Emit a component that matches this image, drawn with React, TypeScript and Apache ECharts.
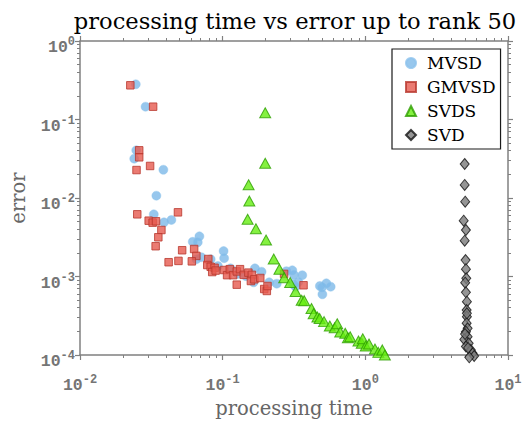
import React, { useEffect, useRef } from "react";
import * as echarts from "echarts";

// ---- data ----
const mvsdTime = [0.0246, 0.0288, 0.0248, 0.024, 0.0384, 0.0343, 0.0329, 0.0388, 0.0437, 0.0687, 0.0617, 0.0669, 0.0709, 0.0654, 0.1015, 0.1024, 0.0824, 0.0926, 0.1135, 0.1456, 0.1683, 0.1648, 0.1874, 0.2118, 0.2393, 0.2796, 0.3076, 0.316, 0.3614, 0.311, 0.339, 0.3243, 0.48, 0.4977, 0.533, 0.5717, 0.5, 0.128];
const mvsdError = [0.281, 0.1456, 0.0405, 0.0317, 0.0229, 0.0107, 0.0062, 0.0049, 0.00525, 0.00325, 0.00277, 0.00273, 0.00176, 0.00166, 0.00211, 0.00171, 0.00166, 0.00136, 0.00127, 0.00101, 0.00127, 0.000843, 0.00115, 0.000843, 0.00081, 0.00117, 0.0012, 0.00105, 0.00104, 0.000802, 0.000851, 0.000741, 0.000757, 0.000728, 0.000819, 0.000741, 0.000593, 0.00108];

const gmvsdTime = [0.02253, 0.03255, 0.026, 0.026, 0.0249, 0.031, 0.0252, 0.0486, 0.0303, 0.0323, 0.0341, 0.0372, 0.0354, 0.0339, 0.052, 0.0631, 0.0654, 0.0418, 0.049, 0.0608, 0.0793, 0.078, 0.0824, 0.0878, 0.0845, 0.0893, 0.1024, 0.1074, 0.1122, 0.1183, 0.1255, 0.1323, 0.1255, 0.1404, 0.1514, 0.1603, 0.1577, 0.1667, 0.1835, 0.1956, 0.204, 0.2062, 0.2694, 0.3688];
const gmvsdError = [0.2727, 0.1456, 0.0405, 0.033, 0.0227, 0.0256, 0.0062, 0.00657, 0.00514, 0.00485, 0.00505, 0.00391, 0.00316, 0.00243, 0.00216, 0.00224, 0.00183, 0.00152, 0.00158, 0.00156, 0.00167, 0.0014, 0.00133, 0.00129, 0.00114, 0.00119, 0.00121, 0.00104, 0.00124, 0.00104, 0.00116, 0.00124, 0.000787, 0.00105, 0.00112, 0.00105, 0.000876, 0.000921, 0.000957, 0.000693, 0.000654, 0.000757, 0.00108, 0.000773];

const svdsTime = [0.1987, 0.1987, 0.152, 0.1538, 0.1496, 0.171, 0.2014, 0.228, 0.25, 0.27, 0.2972, 0.3243, 0.358, 0.3728, 0.4194, 0.4343, 0.4613, 0.478, 0.5138, 0.5636, 0.6096, 0.6353, 0.6668, 0.7228, 0.7545, 0.7826, 0.895, 0.944, 0.959, 1.0065, 1.061, 1.168, 1.233, 1.315, 1.371];
const svdsError = [0.1221, 0.0277, 0.01477, 0.00916, 0.00535, 0.00406, 0.00292, 0.00167, 0.00124, 0.000966, 0.000839, 0.000644, 0.000499, 0.000492, 0.000391, 0.000336, 0.000305, 0.000292, 0.000266, 0.000234, 0.000222, 0.00025, 0.000196, 0.000189, 0.000166, 0.000171, 0.000151, 0.000141, 0.000161, 0.00013, 0.000138, 0.000119, 0.000108, 0.000116, 0.0001];

const svdTime = [4.97, 4.97, 5.01, 4.89, 5.07, 4.97, 5.04, 5.07, 5.1, 5.01, 5.07, 5.15, 5.13, 5.15, 5.13, 5.21, 5.07, 5.21, 4.94, 5.3, 5.07, 5.49, 5.65, 5.79, 5.35, 5.15, 5.0, 5.25];
const svdError = [0.0271, 0.01465, 0.00897, 0.00514, 0.00391, 0.00286, 0.00162, 0.00124, 0.000948, 0.000834, 0.000629, 0.000478, 0.000374, 0.000308, 0.000254, 0.000219, 0.000198, 0.000171, 0.000158, 0.000141, 0.000128, 0.000116, 0.000105, 0.0000971, 0.0000935, 0.00034, 0.000185, 0.000123];

const seriesNames = ["MVSD", "GMVSD", "SVDS", "SVD"];
const xMin = 0.01;
const xMax = 10;
const yMin = 1e-4;
const yMax = 1;
const minorMultipliers = [2, 3, 4, 5, 6, 7, 8, 9];
const xDecades = [0.01, 0.1, 1];
const yDecades = [1e-4, 1e-3, 1e-2, 1e-1];

const zip = (a: number[], b: number[]) => a.map((v, i) => [v, b[i]]);
const minorLog = (decades: number[]) =>
  decades.flatMap((d) => minorMultipliers.map((m) => Math.log10(d * m)));

const AXIS_COLOR = "#808080";
const LABEL_COLOR = "#757575";

const labelRich = {
  b: {
    fontFamily: "Liberation Mono",
    fontWeight: "bold",
    fontSize: 16.5,
    color: LABEL_COLOR,
    verticalAlign: "bottom",
  },
  s: {
    fontFamily: "Liberation Mono",
    fontWeight: "bold",
    fontSize: 12,
    color: LABEL_COLOR,
    verticalAlign: "bottom",
    padding: [0, 0, 8, 0],
  },
};
const powLabel = (v: number) => `{b|10}{s|${Math.round(Math.log10(v))}}`;

function logAxis(position: string, min: number, max: number, withLabels: boolean, extra: any = {}) {
  return {
    type: "log",
    position,
    min,
    max,
    logBase: 10,
    axisLine: { show: true, onZero: false, lineStyle: { color: AXIS_COLOR, width: 1.5 } },
    axisTick: { show: true, inside: false, length: 5, lineStyle: { color: AXIS_COLOR, width: 1.2 } },
    axisLabel: withLabels
      ? { show: true, formatter: powLabel, rich: labelRich, ...(extra.axisLabel || {}) }
      : { show: false },
    splitLine: { show: false },
    minorTick: { show: false },
    ...Object.fromEntries(Object.entries(extra).filter(([k]) => k !== "axisLabel")),
  };
}

function minorAxis(position: string, min: number, max: number, values: number[]) {
  return {
    type: "value",
    position,
    min,
    max,
    axisLine: { show: false, onZero: false },
    axisTick: { show: true, inside: false, length: 3, customValues: values, lineStyle: { color: AXIS_COLOR, width: 1 } },
    axisLabel: { show: false },
    splitLine: { show: false },
  };
}

const option: any = {
  animation: false,
  backgroundColor: "#ffffff",
  title: {
    text: "processing time vs error up to rank 50",
    left: 290,
    top: 4,
    textAlign: "center",
    textStyle: { fontFamily: "DejaVu Serif", fontWeight: "normal", fontSize: 22.6, color: "#000" },
  },
  grid: { left: 76, right: 18, top: 41, bottom: 70, containLabel: false },
  legend: {
    orient: "vertical",
    left: 392,
    top: 49,
    data: [
      { name: "MVSD", icon: "circle" },
      { name: "GMVSD", icon: "rect" },
      { name: "SVDS", icon: "triangle" },
      { name: "SVD", icon: "diamond" },
    ],
    itemWidth: 10,
    itemHeight: 10,
    itemGap: 4,
    padding: [4, 5, 4, 13],
    borderColor: "#1a1a1a",
    borderWidth: 1.2,
    backgroundColor: "#ffffff",
    textStyle: { fontFamily: "DejaVu Serif", fontSize: 17, color: "#000", lineHeight: 20, padding: [0, 0, 0, 6] },
  },
  xAxis: [
    logAxis("bottom", xMin, xMax, true, {
      name: "processing time",
      nameLocation: "middle",
      nameGap: 42,
      nameTextStyle: { fontFamily: "DejaVu Serif", fontSize: 19.5, color: "#666" },
      axisLabel: { margin: 19 },
    }),
    logAxis("top", xMin, xMax, false),
    minorAxis("bottom", Math.log10(xMin), Math.log10(xMax), minorLog(xDecades)),
    minorAxis("top", Math.log10(xMin), Math.log10(xMax), minorLog(xDecades)),
  ],
  yAxis: [
    logAxis("left", yMin, yMax, true, {
      name: "error",
      nameLocation: "middle",
      nameGap: 52,
      nameTextStyle: { fontFamily: "DejaVu Serif", fontSize: 19.5, color: "#666" },
      axisLabel: { margin: 5, padding: [10, 0, 0, 0] },
    }),
    logAxis("right", yMin, yMax, false),
    minorAxis("left", Math.log10(yMin), Math.log10(yMax), minorLog(yDecades)),
    minorAxis("right", Math.log10(yMin), Math.log10(yMax), minorLog(yDecades)),
  ],
  series: [
    {
      name: seriesNames[0],
      type: "scatter",
      xAxisIndex: 0,
      yAxisIndex: 0,
      clip: false,
      symbol: "circle",
      symbolSize: 9,
      itemStyle: { color: "#7db9e8", borderColor: "#8cc2ec", borderWidth: 0.5 },
      data: zip(mvsdTime, mvsdError),
    },
    {
      name: seriesNames[1],
      type: "scatter",
      xAxisIndex: 0,
      yAxisIndex: 0,
      clip: false,
      symbol: "rect",
      symbolSize: 7.5,
      itemStyle: { color: "#e65a4f", borderColor: "#b8382e", borderWidth: 1 },
      data: zip(gmvsdTime, gmvsdError),
    },
    {
      name: seriesNames[2],
      type: "scatter",
      xAxisIndex: 0,
      yAxisIndex: 0,
      clip: false,
      symbol: "triangle",
      symbolSize: [11, 10],
      itemStyle: { color: "#66ee11", borderColor: "#2d9e00", borderWidth: 1 },
      data: zip(svdsTime, svdsError),
    },
    {
      name: seriesNames[3],
      type: "scatter",
      xAxisIndex: 0,
      yAxisIndex: 0,
      clip: false,
      symbol: "diamond",
      symbolSize: [9, 11],
      itemStyle: { color: "#7a7a7a", borderColor: "#111111", borderWidth: 1 },
      data: zip(svdTime, svdError),
    },
  ],
};

export default function App() {
  const ref = useRef<HTMLDivElement>(null);
  useEffect(() => {
    const chart = echarts.init(ref.current!, null, { renderer: "svg" });
    chart.setOption(option);
    return () => chart.dispose();
  }, []);
  return (
    <div
      ref={ref}
      style={{ position: "fixed", left: 0, top: 0, width: 526, height: 425, background: "#fff" }}
    />
  );
}
